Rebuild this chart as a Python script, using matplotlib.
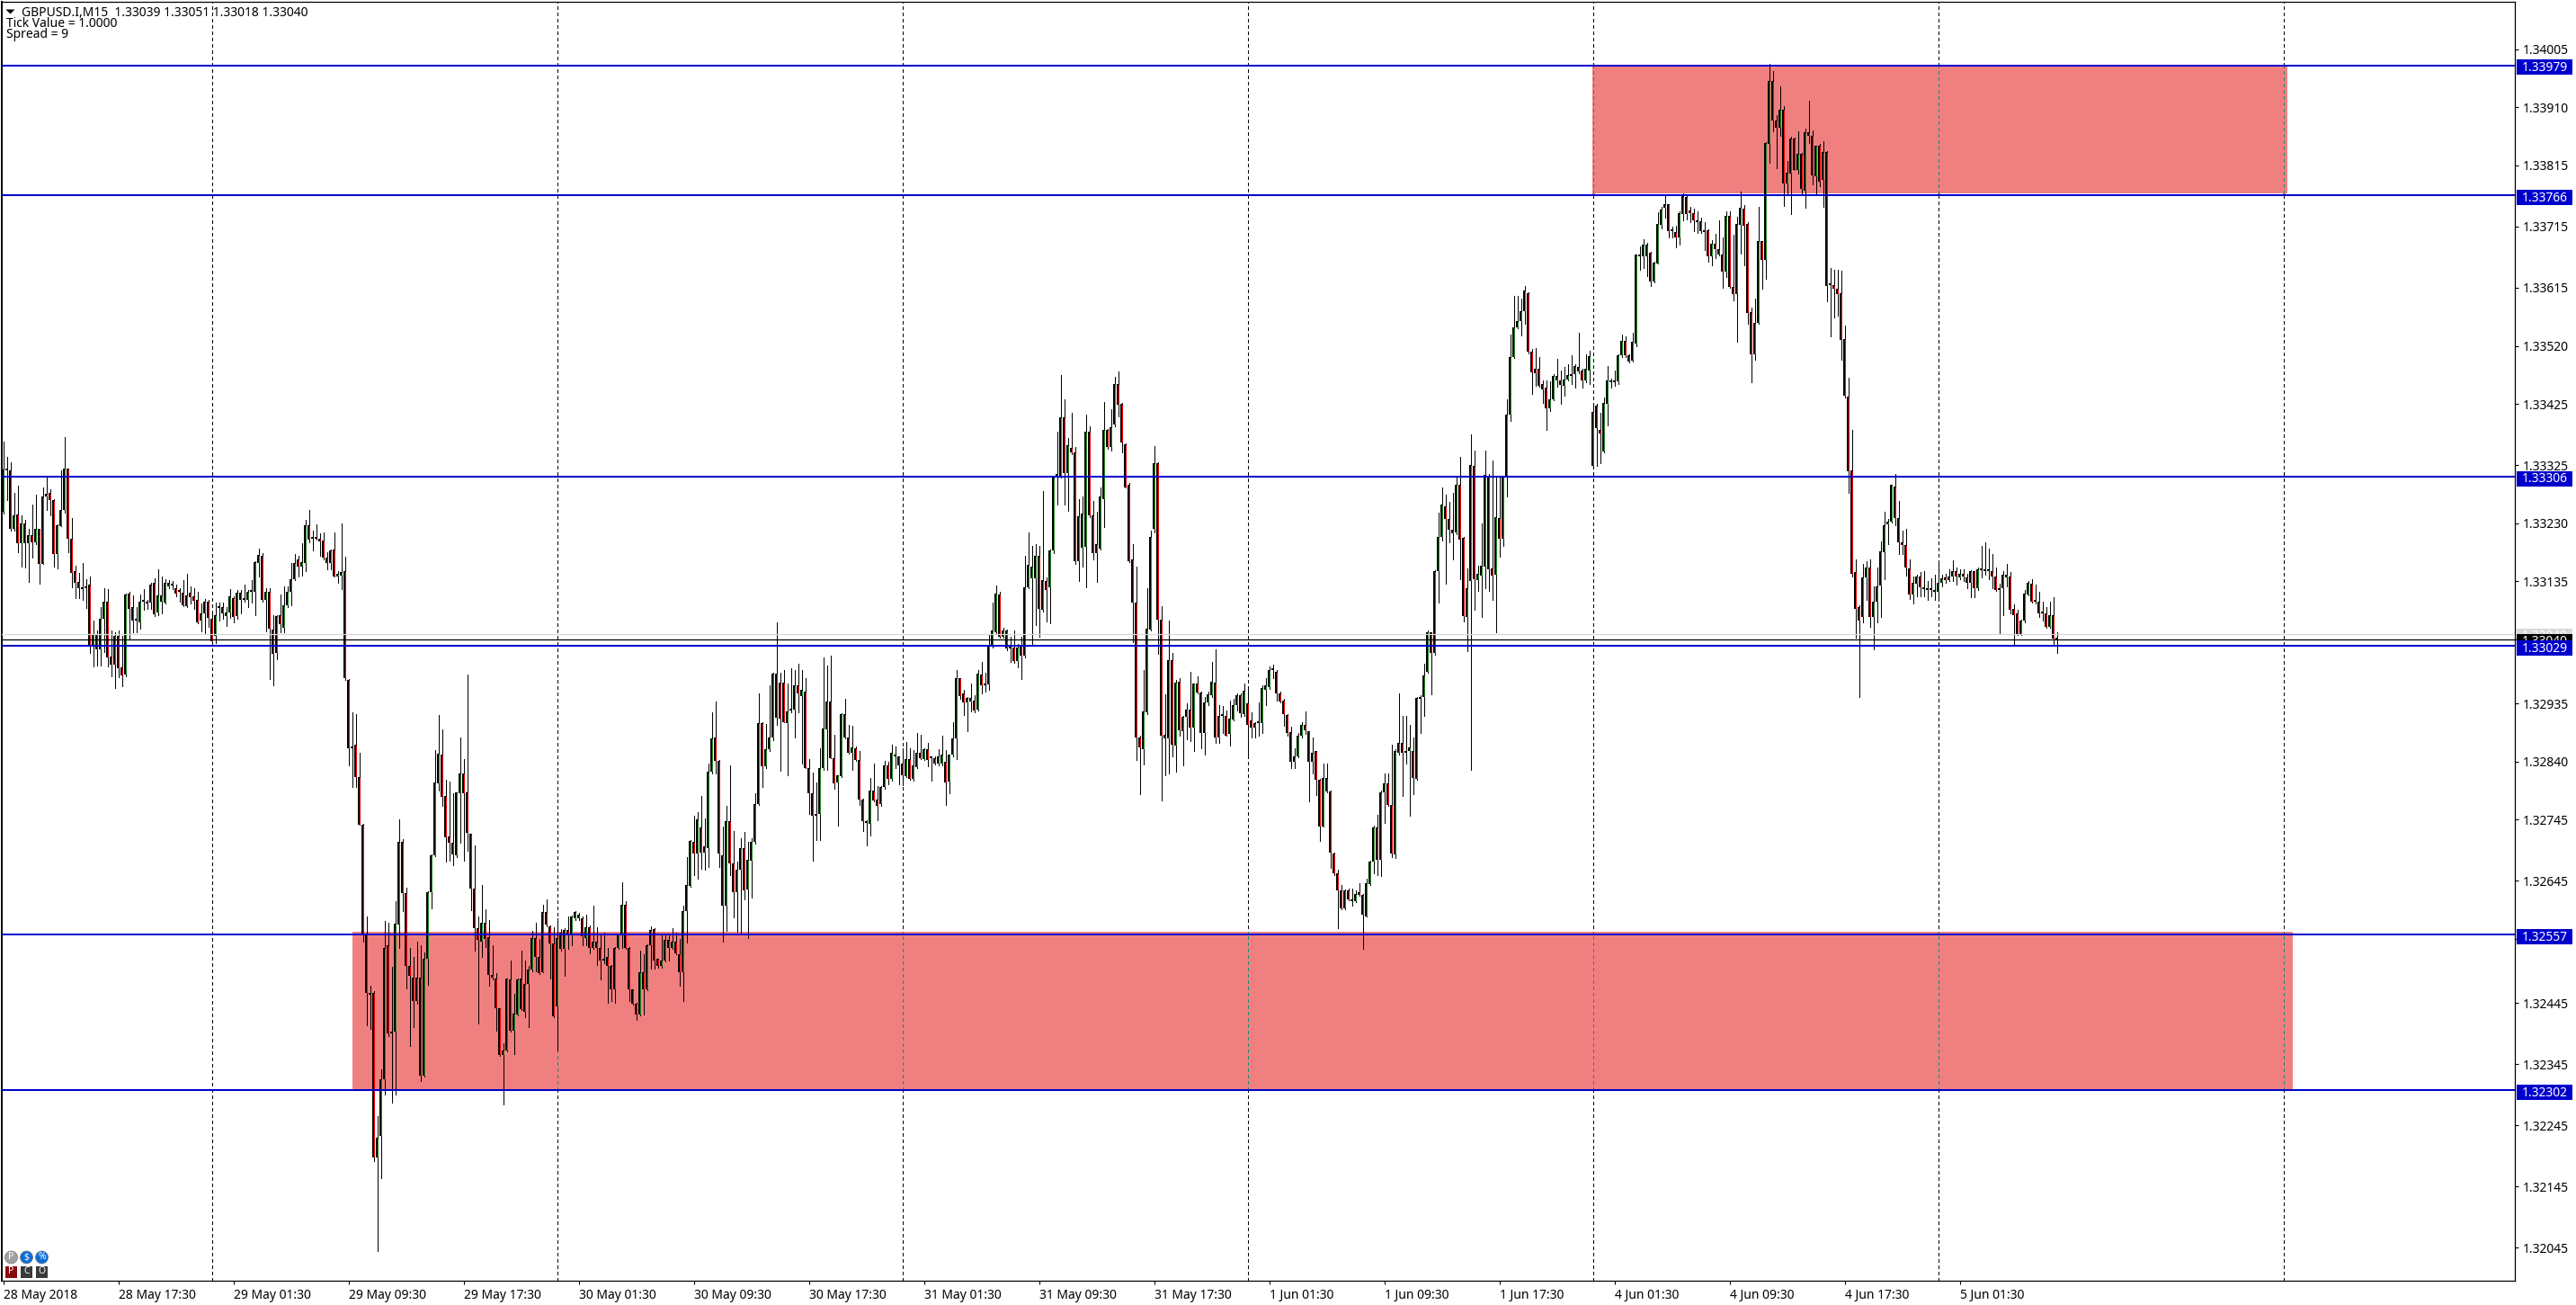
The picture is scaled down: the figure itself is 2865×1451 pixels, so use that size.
import matplotlib
matplotlib.use("Agg")
from matplotlib import pyplot as plt
from matplotlib.patches import Rectangle, Circle, Polygon
import numpy as np

W, H = 2865, 1451
FONT = "Noto Sans"
BLUE = "#0000CD"
PT = 1e-5
PX = 1.4711  # points per pixel on the price scale

# prices are kept in points above 1.32000
BASE = 1.32

opens = [
    1249,1319,1316,1220,1244,1197,1230,1197,1211,1198, 1220,1164,1274,1279,1268,1180,1225,1251,1319,1204,
    1151,1134,1124,1124,1129,1030,1049,1023,1073,1102, 1012,999,1045,994,982,1115,1093,1072,1068,1102,
    1102,1100,1132,1084,1101,1100,1127,1129,1123,1117, 1116,1094,1116,1111,1104,1070,1083,1101,1074,1046,
    1092,1092,1078,1084,1108,1078,1116,1105,1104,1117, 1117,1165,1176,1104,1117,1056,1017,1079,1059,1095,
    1117,1138,1170,1159,1165,1227,1204,1204,1204,1201, 1173,1165,1187,1143,1144,1151,974,865,867,815,
    737,558,461,462,193,228,320,539,396,398, 574,708,625,506,486,449,487,326,517,627,
    686,805,852,783,717,707,686,788,821,790, 722,632,567,546,576,553,491,485,437,360,
    367,484,400,426,485,431,477,500,551,521, 496,594,571,543,439,560,533,565,556,583,
    590,583,552,569,535,546,535,517,520,506, 467,535,558,605,535,467,444,426,496,467,
    540,566,517,505,515,548,535,546,525,496, 596,637,709,690,732,691,699,823,880,841,
    686,604,742,673,627,663,699,631,678,708, 770,903,832,860,880,984,969,969,903,923,
    925,964,947,954,830,788,752,755,829,892, 938,846,806,816,918,880,854,862,842,778,
    742,738,792,778,770,798,834,811,851,848, 836,816,844,811,831,855,844,860,846,836,
    836,836,839,807,851,878,976,951,936,938, 939,925,982,967,966,1029,1052,1113,1044,1054,
    1028,1027,1004,1029,1013,1125,1140,1140,1176,1088, 1136,1125,1186,1304,1306,1403,1312,1353,1345,1168,
    1190,1191,1379,1243,1181,1189,1269,1382,1354,1392, 1457,1425,1359,1292,1170,1100,880,860,920,1056,
    1220,1328,1072,884,878,1006,866,970,889,913, 925,896,967,953,886,936,948,969,879,916,
    915,885,909,933,948,917,935,907,896,903, 903,958,961,989,987,951,940,916,888,840,
    849,882,900,889,840,857,810,734,813,791, 690,657,629,600,629,615,612,626,622,587,
    640,676,732,680,790,804,769,688,854,870, 858,858,857,812,943,945,987,1051,1017,1152,
    1207,1258,1237,1219,1215,1292,1206,1077,1136,1323, 1137,1144,1159,1308,1156,1145,1238,1204,1306,1407,
    1502,1550,1561,1577,1606,1511,1482,1482,1458,1451, 1418,1432,1471,1463,1455,1465,1471,1473,1486,1479,
    1463,1479,1323,1422,1383,1347,1425,1460,1460,1462, 1504,1528,1504,1496,1524,1669,1666,1685,1672,1625,
    1655,1718,1746,1751,1709,1706,1698,1736,1764,1742, 1737,1725,1724,1709,1709,1667,1687,1678,1669,1642,
    1733,1616,1605,1718,1744,1719,1575,1506,1557,1691, 1661,1851,1953,1888,1877,1906,1785,1802,1859,1808,
    1834,1774,1869,1863,1798,1847,1791,1837,1621,1619, 1613,1606,1531,1437,1316,1150,1093,1076,1141,1157,
    1076,1101,1128,1182,1228,1232,1290,1239,1199,1194, 1156,1113,1131,1143,1125,1122,1122,1119,1118,1132,
    1141,1137,1143,1152,1141,1147,1141,1133,1151,1124, 1153,1154,1153,1152,1143,1124,1124,1146,1143,1090,
    1082,1049,1070,1113,1131,1103,1102,1084,1082,1060, 1080,1039,
]
highs = [
    1364,1338,1329,1279,1291,1242,1235,1221,1261,1276, 1220,1288,1306,1285,1269,1228,1316,1370,1319,1238,
    1161,1149,1165,1139,1143,1071,1054,1093,1124,1122, 1054,1051,1055,1045,1115,1117,1112,1093,1113,1122,
    1105,1132,1140,1154,1142,1138,1137,1135,1130,1123, 1137,1147,1127,1124,1117,1098,1106,1105,1085,1100,
    1100,1100,1093,1122,1110,1120,1121,1129,1120,1137, 1168,1189,1181,1124,1124,1080,1080,1113,1127,1127,
    1165,1180,1176,1197,1236,1251,1217,1228,1213,1215, 1183,1187,1215,1151,1229,1175,975,920,918,855,
    738,586,474,464,260,337,579,576,504,611, 745,713,634,535,521,546,540,528,628,688,
    859,916,892,810,807,788,790,880,844,982, 722,703,586,638,599,581,540,494,437,379,
    485,514,460,485,530,515,505,563,576,550, 606,614,572,569,583,566,567,586,588,596,
    592,586,589,572,604,569,556,560,535,507, 537,559,642,612,537,468,446,530,525,541,
    571,567,518,558,558,556,568,560,550,604, 684,711,752,757,783,747,836,920,938,842,
    734,767,834,727,677,714,725,708,715,788, 951,904,901,964,985,1067,985,990,967,993,
    990,1000,990,977,844,822,806,862,1011,997, 1013,884,818,919,943,900,898,865,857,779,
    744,813,837,800,800,841,839,867,865,849, 862,872,862,859,886,884,862,871,849,848,
    860,882,859,852,905,989,977,957,945,967, 948,989,1003,985,1047,1100,1128,1117,1059,1056,
    1044,1054,1033,1044,1176,1215,1193,1195,1193,1282, 1141,1187,1306,1380,1472,1432,1369,1411,1355,1269,
    1273,1408,1388,1266,1249,1289,1428,1384,1416,1469, 1478,1426,1360,1295,1195,1159,882,989,1123,1218,
    1356,1330,1094,950,1071,1018,973,976,915,935, 987,968,979,955,945,954,1003,1023,933,931,
    923,939,942,951,951,967,958,920,905,936, 964,977,996,998,989,954,942,918,897,861,
    886,905,922,890,880,858,812,837,837,793, 691,663,638,631,632,632,629,641,623,649,
    678,735,753,793,820,820,868,860,951,914, 914,900,880,946,949,1000,1054,1052,1153,1247,
    1289,1277,1265,1280,1305,1339,1207,1156,1375,1349, 1160,1230,1348,1311,1333,1308,1308,1308,1432,1539,
    1601,1602,1597,1618,1607,1515,1517,1502,1463,1463, 1462,1473,1498,1480,1485,1490,1504,1490,1542,1482,
    1506,1512,1425,1425,1410,1436,1487,1467,1480,1506, 1539,1535,1506,1542,1670,1683,1694,1689,1674,1657,
    1739,1748,1767,1752,1715,1716,1740,1769,1765,1747, 1745,1740,1729,1723,1711,1693,1703,1725,1698,1740,
    1740,1701,1731,1772,1750,1723,1583,1597,1747,1692, 1853,1981,1970,1898,1944,1912,1822,1862,1860,1871,
    1835,1875,1921,1873,1848,1850,1854,1838,1647,1644, 1644,1643,1553,1468,1382,1171,1095,1163,1167,1171,
    1127,1158,1200,1249,1237,1293,1310,1266,1217,1221, 1171,1143,1145,1150,1152,1135,1140,1145,1168,1145,
    1147,1155,1169,1157,1155,1155,1147,1153,1152,1157, 1192,1199,1189,1180,1157,1131,1152,1163,1150,1097,
    1088,1072,1121,1136,1139,1130,1118,1101,1092,1101, 1109,1051,
]
lows = [
    1245,1268,1217,1218,1183,1159,1157,1134,1174,1196, 1131,1164,1252,1243,1159,1156,1225,1247,1182,1125,
    1107,1107,1105,1091,1017,996,997,997,1019,996, 980,960,978,963,980,1039,1051,1052,1058,1088,
    1090,1090,1078,1080,1083,1098,1124,1122,1110,1101, 1094,1093,1098,1090,1066,1053,1049,1061,1034,1034,
    1071,1073,1062,1075,1067,1074,1083,1102,1093,1100, 1080,1142,1102,1053,975,964,1007,1051,1052,1093,
    1096,1137,1143,1144,1151,1199,1186,1203,1176,1171, 1154,1154,1142,1132,1122,973,834,798,798,737,
    546,408,402,186,39,158,295,391,282,295, 535,596,469,375,405,444,318,325,475,600,
    685,793,768,676,678,671,684,707,678,694, 597,530,412,520,536,473,484,400,359,279,
    366,398,361,425,433,422,405,497,497,493, 495,570,485,422,368,530,489,533,540,581,
    580,540,540,527,534,507,484,510,446,448, 446,533,535,533,448,442,417,425,426,466,
    502,502,503,503,513,515,533,525,474,448, 544,635,654,648,665,663,668,821,820,668,
    545,563,654,585,561,560,614,551,617,706, 769,798,830,858,875,900,825,904,818,920,
    880,921,836,829,754,678,711,711,827,827, 845,796,735,815,878,853,826,841,769,727,
    703,719,775,744,768,796,803,809,829,803, 801,814,810,809,830,844,842,832,809,835,
    834,834,769,788,849,844,943,916,890,922, 921,923,951,954,958,1027,1050,1042,1042,1022,
    1003,1002,994,975,1010,1123,1032,1063,1044,1086, 1069,1066,1181,1261,1304,1261,1250,1343,1163,1136,
    1159,1125,1240,1171,1134,1187,1224,1352,1348,1388, 1404,1345,1288,1166,1035,843,786,835,918,1054,
    1215,1016,776,818,821,849,824,883,834,877, 874,858,951,861,852,933,945,870,870,886,
    882,866,908,923,913,914,851,880,879,883, 886,933,959,977,939,936,899,883,829,829,
    847,880,885,775,820,785,710,733,790,666, 655,567,598,598,613,604,610,620,534,586,
    638,657,654,653,739,768,684,682,852,784, 837,752,787,810,886,914,985,950,1015,1100,
    1201,1131,1199,1171,1212,1139,1069,1020,826,1088, 1119,1077,1124,1119,1105,1052,1175,1192,1273,1397,
    1500,1548,1537,1556,1508,1441,1455,1453,1427,1383, 1414,1431,1453,1425,1438,1463,1458,1451,1475,1451,
    1460,1458,1321,1323,1328,1346,1390,1452,1455,1458, 1502,1502,1493,1494,1519,1644,1647,1634,1618,1623,
    1654,1712,1730,1698,1698,1681,1685,1725,1727,1723, 1707,1705,1704,1676,1658,1652,1663,1668,1615,1632,
    1615,1595,1527,1671,1652,1556,1460,1497,1556,1613, 1630,1819,1871,1811,1863,1749,1769,1736,1807,1801,
    1769,1746,1852,1784,1768,1781,1747,1593,1536,1566, 1569,1497,1435,1279,1142,1042,945,1067,1104,1060,
    1023,1067,1076,1139,1195,1231,1227,1179,1179,1144, 1106,1098,1110,1110,1110,1105,1110,1105,1108,1127,
    1132,1135,1135,1130,1139,1135,1123,1109,1109,1121, 1141,1145,1139,1124,1119,1048,1079,1127,1082,1030,
    1047,1047,1067,1112,1100,1098,1077,1070,1059,1059, 1030,1018,
]
closes = [
    1318,1317,1220,1242,1197,1230,1197,1211,1198,1220, 1163,1273,1278,1268,1180,1227,1251,1319,1205,1149,
    1133,1124,1122,1127,1030,1049,1023,1073,1101,1011, 999,1045,993,981,1113,1090,1071,1071,1102,1102,
    1098,1130,1081,1112,1112,1132,1133,1128,1114,1117, 1095,1112,1109,1103,1068,1083,1101,1075,1037,1080,
    1091,1083,1084,1110,1077,1116,1105,1105,1117,1117, 1166,1178,1104,1117,1057,1016,1078,1064,1095,1117,
    1138,1165,1159,1166,1226,1203,1204,1204,1200,1173, 1165,1185,1143,1147,1150,976,861,861,815,737,
    558,461,458,193,224,321,535,395,396,575, 708,625,506,489,449,487,326,518,627,687,
    806,853,782,716,707,688,790,821,788,723, 632,567,548,576,550,491,486,436,360,367,
    485,400,427,484,435,477,500,551,520,494, 594,573,543,423,552,533,564,558,586,594,
    583,554,569,535,546,535,515,514,506,467, 535,558,605,535,467,444,426,495,467,540,
    565,515,505,515,548,535,546,527,496,596, 638,710,690,745,691,701,823,878,841,689,
    604,742,673,627,663,698,629,680,708,770, 903,832,860,880,984,911,910,905,922,924,
    964,951,957,830,788,752,755,830,894,938, 846,805,817,917,880,855,863,843,778,742,
    740,792,777,768,798,834,811,855,849,834, 817,844,811,834,855,846,860,842,846,846,
    849,851,806,851,878,977,947,936,944,944, 923,984,965,964,1029,1054,1114,1044,1055,1025,
    1025,1004,1027,1013,1125,1162,1159,1176,1089,1137, 1121,1186,1305,1310,1403,1312,1357,1345,1168,1241,
    1245,1379,1242,1181,1195,1274,1382,1354,1387,1457, 1424,1362,1289,1168,1100,880,863,922,1058,1208,
    1328,1072,883,878,1006,868,969,891,913,925, 896,967,953,886,936,950,970,879,915,914,
    883,910,933,948,919,956,900,896,903,903, 960,964,989,989,951,938,917,886,839,849,
    882,900,891,840,854,810,734,813,791,691, 657,629,600,629,615,612,624,622,589,641,
    677,732,680,790,804,769,689,857,871,854, 854,863,813,944,946,981,1051,1018,1152,1207,
    1260,1237,1219,1213,1292,1203,1078,1123,1325,1139, 1147,1160,1309,1155,1144,1240,1204,1306,1407,1502,
    1550,1561,1577,1610,1511,1476,1475,1455,1449,1418, 1432,1471,1463,1456,1465,1472,1472,1487,1478,1464,
    1482,1503,1412,1385,1376,1427,1463,1463,1460,1504, 1528,1504,1495,1526,1669,1666,1685,1667,1625,1656,
    1719,1743,1751,1707,1707,1698,1737,1765,1736,1737, 1725,1723,1707,1706,1666,1687,1678,1669,1641,1733,
    1616,1604,1719,1746,1717,1574,1506,1557,1691,1661, 1852,1953,1888,1877,1906,1785,1803,1859,1808,1834,
    1776,1869,1864,1799,1847,1789,1837,1618,1619,1613, 1605,1530,1438,1315,1147,1089,1070,1141,1157,1076,
    1102,1127,1184,1226,1233,1292,1239,1199,1194,1157, 1113,1132,1143,1125,1122,1120,1120,1118,1132,1140,
    1137,1143,1152,1143,1147,1142,1132,1152,1124,1155, 1156,1152,1151,1142,1120,1120,1146,1141,1088,1079,
    1048,1071,1114,1133,1101,1101,1082,1082,1060,1080, 1041,1040,
]

time_labels = ["28 May 2018", "28 May 17:30", "29 May 01:30", "29 May 09:30", "29 May 17:30", "30 May 01:30",
               "30 May 09:30", "30 May 17:30", "31 May 01:30", "31 May 09:30", "31 May 17:30", "1 Jun 01:30",
               "1 Jun 09:30", "1 Jun 17:30", "4 Jun 01:30", "4 Jun 09:30", "4 Jun 17:30", "5 Jun 01:30"]
price_ticks = [1.34005, 1.33910, 1.33815, 1.33715, 1.33615, 1.33520, 1.33425, 1.33325, 1.33230, 1.33135, 1.33040,
               1.32935, 1.32840, 1.32745, 1.32645, 1.32550, 1.32445, 1.32345, 1.32245, 1.32145, 1.32045]
level_prices = [1.33979, 1.33766, 1.33306, 1.33029, 1.32557, 1.32302]
day_bars = [58, 154, 250, 346, 442, 538, 634]
bars_per_label = 32
bid, ask = 1.33040, 1.33049
# zones: first bar, last bar, low price, high price
zone_top = (442, 635, 1.33769, 1.33979)
zone_bottom = (97, 636.5, 1.32302, 1.32561)

opens, highs, lows, closes = [BASE + np.array(a) * PT for a in (opens, highs, lows, closes)]
x = np.arange(len(opens))
green = closes >= opens


def fx(px):
    return px / W


def fy(px):
    return 1 - px / H


fig = plt.figure(figsize=(W / 100, H / 100), dpi=100, facecolor="white")
# frame runs 2..2797 across, 2..1424 down; one bar is 4 pixels
TOP, BOTTOM = 2, 1424
ax = fig.add_axes([fx(2), fy(BOTTOM), fx(2797 - 2), (BOTTOM - TOP) / H])
ax.set_xlim(-0.375, 698.375)
# 1.33979 sits on pixel row 72.5
ax.set_ylim(1.33979 - (BOTTOM - 72.5) * PX * PT, 1.33979 + (72.5 - TOP) * PX * PT)

for z in (zone_top, zone_bottom):
    ax.add_patch(Rectangle((z[0], z[2]), z[1] - z[0], z[3] - z[2], facecolor="#F08080", edgecolor="none", zorder=1))

dash = (0, (4, 3))
ax.vlines(day_bars, *ax.get_ylim(), colors="black", linewidth=0.72, linestyles=dash, zorder=2, antialiased=False)
# the dotted lines turn teal where they cross a zone
for z in (zone_top, zone_bottom):
    inside = [d for d in day_bars if z[0] <= d <= z[1]]
    ax.vlines(inside, z[2], z[3], colors="#F08080", linewidth=1.0, zorder=2.1, antialiased=False)
    ax.vlines(inside, z[2], z[3], colors="#1A8A7A", linewidth=0.72, linestyles=dash, zorder=2.2, antialiased=False)

ax.vlines(x, lows, highs, colors="black", linewidth=0.72, zorder=3, antialiased=False)
# body: 3 pixels of black with a 1 pixel coloured core
tops = np.maximum(opens, closes)
bots = np.minimum(opens, closes)
ax.bar(x, np.maximum(tops - bots, 2 * PX * PT), bottom=bots, width=0.75, color="black", edgecolor="none", zorder=4)
tall = (tops - bots) > 2.5 * PX * PT
ax.vlines(x[tall], bots[tall] + PX * PT, tops[tall] - PX * PT, colors=np.where(green[tall], "#228B22", "#FF0000"),
          linewidth=0.72, zorder=5, antialiased=False)

ax.axhline(ask, color="#D8D8D8", linewidth=0.9, zorder=6)
ax.axhline(bid, color="black", linewidth=0.9, zorder=6)
ax.hlines(level_prices, ax.get_xlim()[0], ax.get_xlim()[1], colors=BLUE, linewidth=1.44, zorder=7, antialiased=False)

ax.yaxis.tick_right()
ax.set_yticks(price_ticks)
ax.set_yticklabels(["%.5f" % p for p in price_ticks], fontsize=10, family=FONT, color="black")
ax.set_xticks(x[::bars_per_label][:len(time_labels)])
ax.set_xticklabels(time_labels, fontsize=10, family=FONT, ha="left", color="black")
ax.tick_params(axis="both", length=3.2, width=0.8, color="black", pad=3)
for s in ax.spines.values():
    s.set_linewidth(0.9)
ax.spines["left"].set_linewidth(1.4)


def price_tag(price, box, fg, order):
    py = TOP + (ax.get_ylim()[1] - price) / (PX * PT)
    fig.add_artist(Rectangle((fx(2799), fy(py + 11)), fx(62), 17 / H, transform=fig.transFigure,
                             facecolor=box, edgecolor="none", zorder=order))
    fig.text(fx(2805), fy(py + 3), "%.5f" % price, color=fg, fontsize=10, family=FONT,
             va="center", ha="left", zorder=order + 0.5)


price_tag(ask, "#D8D8D8", "white", 10)
price_tag(bid, "black", "white", 11)
for n, p in enumerate(level_prices):
    price_tag(p, BLUE, "white", 12 + n)

# header
fig.add_artist(Polygon([(fx(6.5), fy(10.5)), (fx(16.5), fy(10.5)), (fx(11.5), fy(15.5))],
                       transform=fig.transFigure, facecolor="black", edgecolor="none"))
fig.text(fx(24), fy(14), "GBPUSD.I,M15  1.33039 1.33051 1.33018 1.33040", fontsize=10, family=FONT, va="center")
fig.text(fx(7), fy(27), "Tick Value = 1.0000", fontsize=10, family=FONT, va="center")
fig.text(fx(7), fy(39), "Spread = 9", fontsize=10, family=FONT, va="center")

# trade buttons, bottom left
for cx, col, t in ((12.5, "#A0A0A0", "P"), (29.5, "#0A6ED8", r"\$"), (46.5, "#0A6ED8", "%")):
    fig.add_artist(Circle((cx, H - 1398), 7, transform=None, facecolor=col, edgecolor="#777777", linewidth=0.5))
    fig.text(fx(cx), fy(1398), t, color="white", fontsize=7.5, family=FONT, weight="bold", ha="center", va="center")
for cx, col, t in ((12.5, "#8B0A0A", "P"), (29.5, "#3A3A3A", "C"), (46.5, "#3A3A3A", "O")):
    fig.add_artist(Rectangle((fx(cx - 6.5), fy(1414 + 6.5)), fx(13), 13 / H, transform=fig.transFigure,
                             facecolor=col, edgecolor="none"))
    fig.text(fx(cx), fy(1414), t, color="white", fontsize=7.5, family=FONT, ha="center", va="center")

fig.savefig("out.png", dpi=100, facecolor="white")
